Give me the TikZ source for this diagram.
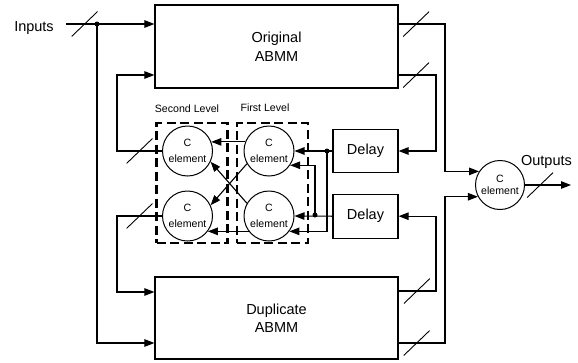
\documentclass[tikz,border=0pt]{standalone}
\usepackage{fontspec}
\setmainfont{Liberation Sans}
\usetikzlibrary{positioning, arrows.meta}

\begin{document}
\begin{tikzpicture}[
        x=1pt, y=-1pt,
        >={Triangle[length=10pt, width=7.5pt]},
        wire/.style={line width=1.1pt},
        block/.style={rectangle, draw, line width=1.2pt, align=center, inner sep=0pt, font=\fontsize{14.5}{18.5}\selectfont},
        celem/.style={circle, draw, line width=1pt, minimum size=50pt, inner sep=0pt, align=center, font=\fontsize{10.6}{16}\selectfont},
        lvlbox/.style={rectangle, draw, line width=2.6pt, dash pattern=on 9pt off 4.5pt, minimum width=71pt, minimum height=120pt},
        bus/.style={inner sep=0pt, minimum width=26pt, minimum height=25pt, path picture={\draw[-, line width=0.9pt] (path picture bounding box.south west) -- (path picture bounding box.north east);}},
        joint/.style={circle, fill, inner sep=0pt, minimum size=5pt},
        tag/.style={anchor=base, inner sep=0pt},
    ]
    \useasboundingbox (0,0) rectangle (578,362);

    % ABMM blocks and delays
    \node[block, minimum width=243pt, minimum height=83pt] (orig) at (276.5,46.5) {Original\\ABMM};
    \node[block, minimum width=243pt, minimum height=82pt] (dup) at (276.5,318) {Duplicate\\ABMM};
    \node[block, minimum width=65pt, minimum height=43pt] (delay1) at (365.5,151) {Delay};
    \node[block, minimum width=65pt, minimum height=44pt, below=20.5pt of delay1] (delay2) {Delay};

    % C elements
    \node[celem] (c21) at (187.5,151) {C\\element};
    \node[celem, below=14pt of c21] (c22) {C\\element};
    \node[celem, right=30.5pt of c21] (c11) {C\\element};
    \node[celem, below=14pt of c11] (c12) {C\\element};
    \node[celem, minimum size=49pt, font=\fontsize{10.6}{11.5}\selectfont] (cout) at (500,185) {C\\element};

    % level frames
    \node[lvlbox] (lvl2) at (192,183) {};
    \node[lvlbox] (lvl1) at (272.5,183) {};
    \node[tag, font=\fontsize{10.6}{12}\selectfont] (lab2) at (187,112) {Second Level};
    \node[tag, font=\fontsize{10.6}{12}\selectfont] (lab1) at (265,111) {First Level};

    \node[tag, font=\fontsize{14.5}{17}\selectfont] (inp) at (34,31) {Inputs};
    \node[tag, font=\fontsize{14.5}{17}\selectfont] (outl) at (546.5,165) {Outputs};

    \coordinate (instart) at (66,24);
    \coordinate (split) at (97,24);
    \coordinate (fb1) at (117,75);
    \coordinate (fb2) at (117,292);
    \coordinate (ro1) at (445,24);
    \coordinate (ro2) at (436,75);
    \coordinate (rd1) at (436,291);
    \coordinate (rd2) at (445,343);
    \coordinate (dot1) at (327,151);
    \coordinate (dot2) at (315,215);
    \coordinate (outend) at (571,185);

    % inputs
    \draw[wire] (instart) -- node[bus, pos=0.6] {} (split);
    \draw[wire, ->] (split) -- (split -| orig.west);
    \draw[wire, ->] (split) |- (dup.west |- rd2);
    \node[joint] (j0) at (split) {};

    % second level back to the ABMMs
    \draw[wire, ->] (c21.west) -| node[bus, pos=0.25] {} (fb1) -- (fb1 -| orig.west);
    \draw[wire, ->] (c22.west) -| node[bus, pos=0.25] {} (fb2) -- (fb2 -| dup.west);

    % ABMM outputs
    \draw[wire, ->] (orig.east |- ro1) -- node[bus, pos=0.38] {} (ro1) |- (cout.147);
    \draw[wire, ->] (orig.east |- ro2) -- node[bus, pos=0.47] {} (ro2) |- (delay1.east);
    \draw[wire, ->] (dup.east |- rd1) -- node[bus, pos=0.49] {} (rd1) |- (delay2.east);
    \draw[wire, ->] (dup.east |- rd2) -- node[bus, pos=0.39] {} (rd2) |- (cout.208);

    % delays into first level
    \draw[wire, ->] (delay1.west) -- (c11.east);
    \draw[wire, ->] (dot1) |- (c12.-37);
    \node[joint] (j1) at (dot1) {};
    \draw[wire, ->] (delay2.west) -- (c12.east);
    \draw[wire, ->] (dot2) |- (c11.-34);
    \node[joint] (j2) at (dot2) {};

    % first level into second level
    \draw[wire, ->] (c11.159) -- (c21.21);
    \draw[wire, ->] (c12.217) -- (c22.-37);
    \draw[wire, ->] (c11.210) -- (c22.25);
    \draw[wire, ->] (c12.150) -- (c21.-25);

    \draw[wire, ->] (cout.east) -- node[bus, pos=0.33] {} (outend);
\end{tikzpicture}
\end{document}
